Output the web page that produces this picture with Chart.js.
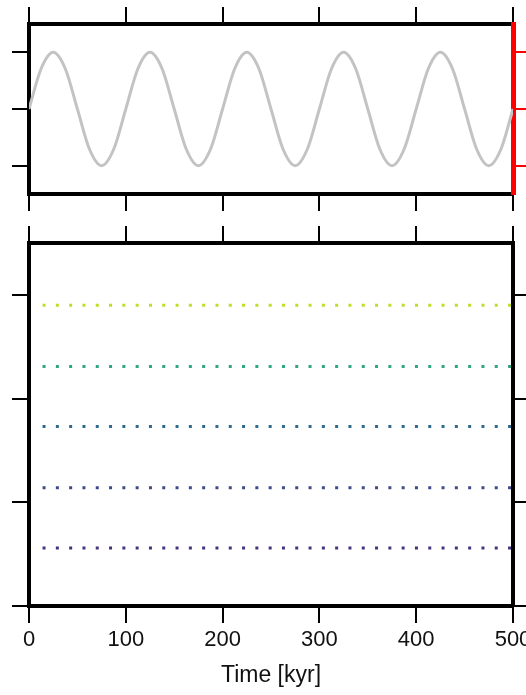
<!DOCTYPE html>
<html>
<head>
<meta charset="utf-8">
<script src="https://cdn.jsdelivr.net/npm/chart.js@4"></script>
<style>
  html, body { margin: 0; padding: 0; background: #fff; }
  body { width: 526px; height: 695px; position: relative; overflow: hidden; }
  canvas { position: absolute; left: 0; }
  #top { top: 0; }
  #bottom { top: 215px; }
</style>
</head>
<body>
<canvas id="top" width="526" height="215"></canvas>
<canvas id="bottom" width="526" height="480"></canvas>
<script>
// values

// top panel: the forcing curve (kyr, signal)
var TIME = [0, 12.5, 25, 37.5, 50, 62.5, 75, 87.5,
            100, 112.5, 125, 137.5, 150, 162.5, 175, 187.5,
            200, 212.5, 225, 237.5, 250, 262.5, 275, 287.5,
            300, 312.5, 325, 337.5, 350, 362.5, 375, 387.5,
            400, 412.5, 425, 437.5, 450, 462.5, 475, 487.5, 500];
var SIGNAL = [0, 0.71, 1, 0.71, 0, -0.71, -1, -0.71,
              0, 0.71, 1, 0.71, 0, -0.71, -1, -0.71,
              0, 0.71, 1, 0.71, 0, -0.71, -1, -0.71,
              0, 0.71, 1, 0.71, 0, -0.71, -1, -0.71,
              0, 0.71, 1, 0.71, 0, -0.71, -1, -0.71, 0];

// bottom panel: dotted levels
var LEVEL_SPAN = [14, 500];
var LEVELS = [2.9, 2.31, 1.73, 1.14, 0.56];

// ticks
var X_TICKS = [0, 100, 200, 300, 400, 500];
var TOP_Y_TICKS = [-1, 0, 1];
var BOTTOM_Y_TICKS = [0, 1, 2, 3];

var LEVEL_COLORS = ['#bcdf27', '#2fa584', '#2f6b8e', '#3e4a89', '#46337f'];
var FONT = "'Liberation Sans', Arial, Helvetica, sans-serif";

Chart.defaults.font.family = FONT;

function fixedTicks(list) {
    return function (scale) {
        scale.ticks = list.map(function (v) { return { value: v }; });
    };
}
function fixedSize(size) {
    return function (scale) {
        if (scale.isHorizontal()) scale.height = size; else scale.width = size;
        scale.paddingLeft = 0;
        scale.paddingRight = 0;
        scale.paddingTop = 0;
        scale.paddingBottom = 0;
    };
}
function axis(position, size, ticks, color, extra) {
    var o = {
        position: position,
        afterBuildTicks: fixedTicks(ticks),
        afterFit: fixedSize(size),
        grid: { drawOnChartArea: false, drawTicks: true, tickLength: 17, color: color, lineWidth: 2 },
        border: { display: true, color: color, width: 4 },
        ticks: { display: false }
    };
    for (var k in extra) o[k] = extra[k];
    return o;
}

// Top panel
var ctx1 = document.getElementById("top").getContext("2d");
var topChart = new Chart(ctx1, {
    type: 'line',
    data: {
        datasets: [
            {
                data: TIME.map(function (t, i) { return { x: t, y: SIGNAL[i] }; }),
                borderColor: '#c3c3c3',
                borderWidth: 3,
                pointRadius: 0,
                cubicInterpolationMode: 'monotone',
                fill: false
            }
        ]
    },
    options: {
        responsive: false,
        animation: false,
        devicePixelRatio: 1,
        layout: { padding: 0 },
        plugins: { legend: { display: false }, tooltip: { enabled: false } },
        scales: {
            x: axis('bottom', 21, X_TICKS, '#000', { type: 'linear', min: 0, max: 500 }),
            x2: axis('top', 24, X_TICKS, '#000', { type: 'linear', min: 0, max: 500 }),
            y: axis('left', 29, TOP_Y_TICKS, '#000', { type: 'linear', min: -1.5, max: 1.5 }),
            y2: axis('right', 13, TOP_Y_TICKS, '#ff0000', { type: 'linear', min: -1.5, max: 1.5, z: 2 })
        }
    }
});
topChart.options.scales.y2.border.width = 5;
topChart.update();

// Bottom panel
var ctx2 = document.getElementById("bottom").getContext("2d");
var bottomChart = new Chart(ctx2, {
    type: 'line',
    data: {
        datasets: LEVELS.map(function (v, i) {
            return {
                data: [{ x: LEVEL_SPAN[0], y: v }, { x: LEVEL_SPAN[1], y: v }],
                borderColor: LEVEL_COLORS[i],
                borderWidth: 3,
                borderDash: [3, 10.3],
                borderCapStyle: 'butt',
                pointRadius: 0,
                fill: false
            };
        })
    },
    options: {
        responsive: false,
        animation: false,
        devicePixelRatio: 1,
        layout: { padding: 0 },
        plugins: { legend: { display: false }, tooltip: { enabled: false } },
        scales: {
            x: axis('bottom', 89, X_TICKS, '#000', {
                type: 'linear', min: 0, max: 500,
                ticks: { display: true, color: '#111', font: { size: 22 }, padding: 4, maxRotation: 0, autoSkip: false },
                title: { display: true, text: 'Time [kyr]', color: '#111', font: { size: 23 }, padding: { top: 0, bottom: 6 } }
            }),
            x2: axis('top', 28, X_TICKS, '#000', { type: 'linear', min: 0, max: 500 }),
            y: axis('left', 29, BOTTOM_Y_TICKS, '#000', { type: 'linear', min: 0, max: 3.5 }),
            y2: axis('right', 13, BOTTOM_Y_TICKS, '#000', { type: 'linear', min: 0, max: 3.5 })
        }
    }
});
</script>
</body>
</html>
